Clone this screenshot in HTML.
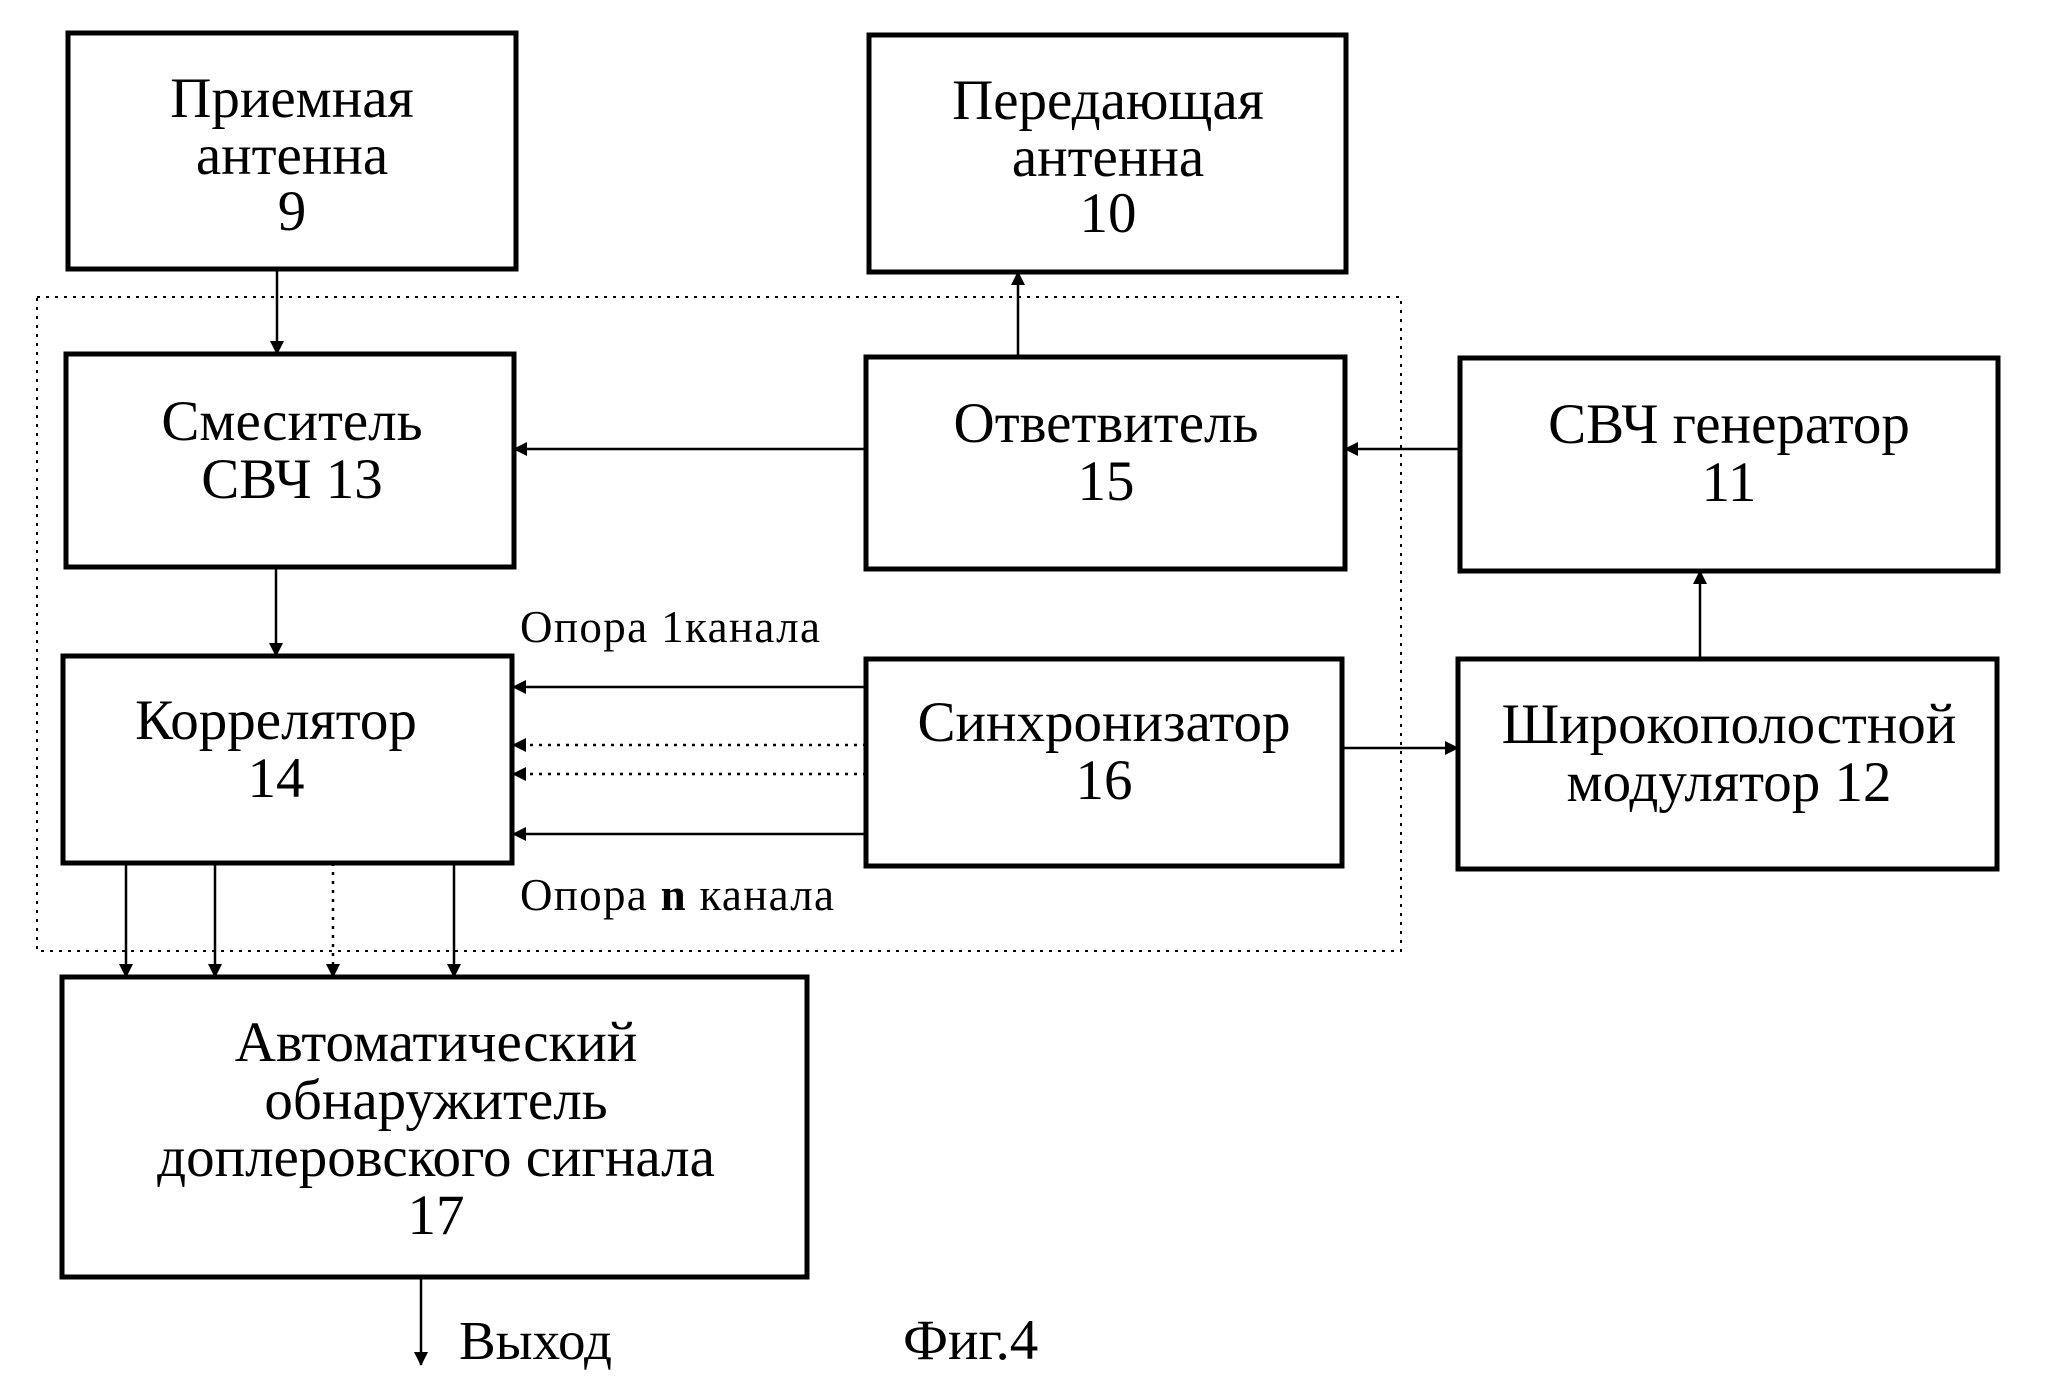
<!DOCTYPE html>
<html><head><meta charset="utf-8"><style>html,body{margin:0;padding:0;background:#fff}svg{display:block}</style></head>
<body>
<svg width="2057" height="1397" viewBox="0 0 2057 1397" xmlns="http://www.w3.org/2000/svg" font-family="Liberation Serif, serif" fill="#000">
<defs><marker id="b" markerWidth="14" markerHeight="14" refX="13" refY="7" orient="auto" markerUnits="userSpaceOnUse"><path d="M0,0 L14,7 L0,14 z"/></marker></defs>
<rect x="37" y="297" width="1364" height="654" fill="none" stroke="#000" stroke-width="2" stroke-dasharray="3,6"/>
<g fill="none" stroke="#000" stroke-width="5">
<rect x="68" y="33" width="448" height="236"/>
<rect x="869" y="35" width="477" height="237"/>
<rect x="66" y="354" width="448" height="213"/>
<rect x="866" y="357" width="479" height="212"/>
<rect x="1460" y="358" width="538" height="213"/>
<rect x="63" y="656" width="449" height="207"/>
<rect x="866" y="659" width="476" height="207"/>
<rect x="1458" y="659" width="539" height="210"/>
<rect x="62" y="977" width="745" height="300"/>
</g>
<g stroke="#000" stroke-width="2.5" fill="none">
<line x1="277" y1="269" x2="277" y2="354" marker-end="url(#b)"/>
<line x1="1018" y1="357" x2="1018" y2="272" marker-end="url(#b)"/>
<line x1="866" y1="449" x2="514" y2="449" marker-end="url(#b)"/>
<line x1="1460" y1="449" x2="1345" y2="449" marker-end="url(#b)"/>
<line x1="276" y1="567" x2="276" y2="656" marker-end="url(#b)"/>
<line x1="866" y1="687" x2="513" y2="687" marker-end="url(#b)"/>
<line x1="866" y1="745" x2="513" y2="745" stroke-dasharray="3,6" marker-end="url(#b)"/>
<line x1="866" y1="774" x2="513" y2="774" stroke-dasharray="3,6" marker-end="url(#b)"/>
<line x1="866" y1="834" x2="513" y2="834" marker-end="url(#b)"/>
<line x1="1342" y1="748" x2="1458" y2="748" marker-end="url(#b)"/>
<line x1="1700" y1="659" x2="1700" y2="571" marker-end="url(#b)"/>
<line x1="126" y1="863" x2="126" y2="977" marker-end="url(#b)"/>
<line x1="215" y1="863" x2="215" y2="977" marker-end="url(#b)"/>
<line x1="333" y1="863" x2="333" y2="977" stroke-dasharray="3,6" marker-end="url(#b)"/>
<line x1="454" y1="863" x2="454" y2="977" marker-end="url(#b)"/>
<line x1="421" y1="1277" x2="421" y2="1365" marker-end="url(#b)"/>
</g>
<g font-size="57" text-anchor="middle">
<text x="292" y="117">Приемная</text><text x="292" y="174">антенна</text><text x="292" y="230">9</text>
<text x="1108" y="119">Передающая</text><text x="1108" y="176">антенна</text><text x="1108" y="232">10</text>
<text x="292" y="440">Смеситель</text><text x="292" y="498">СВЧ 13</text>
<text x="1106" y="442">Ответвитель</text><text x="1106" y="500">15</text>
<text x="1729" y="443">СВЧ генератор</text><text x="1729" y="501">11</text>
<text x="276" y="739">Коррелятор</text><text x="276" y="797">14</text>
<text x="1104" y="741">Синхронизатор</text><text x="1104" y="799">16</text>
<text x="1729" y="743">Широкополостной</text><text x="1729" y="801">модулятор 12</text>
<text x="436" y="1061">Автоматический</text><text x="436" y="1119">обнаружитель</text><text x="436" y="1176">доплеровского сигнала</text><text x="436" y="1234">17</text>
</g>
<g font-size="45">
<text x="520" y="642" textLength="300">Опора 1канала</text>
<text x="520" y="910" textLength="314">Опора <tspan font-weight="bold">n</tspan> канала</text>
<text x="459" y="1359" font-size="55">Выход</text>
<text x="903" y="1359" font-size="57">Фиг.4</text>
</g>
</svg>
</body></html>
